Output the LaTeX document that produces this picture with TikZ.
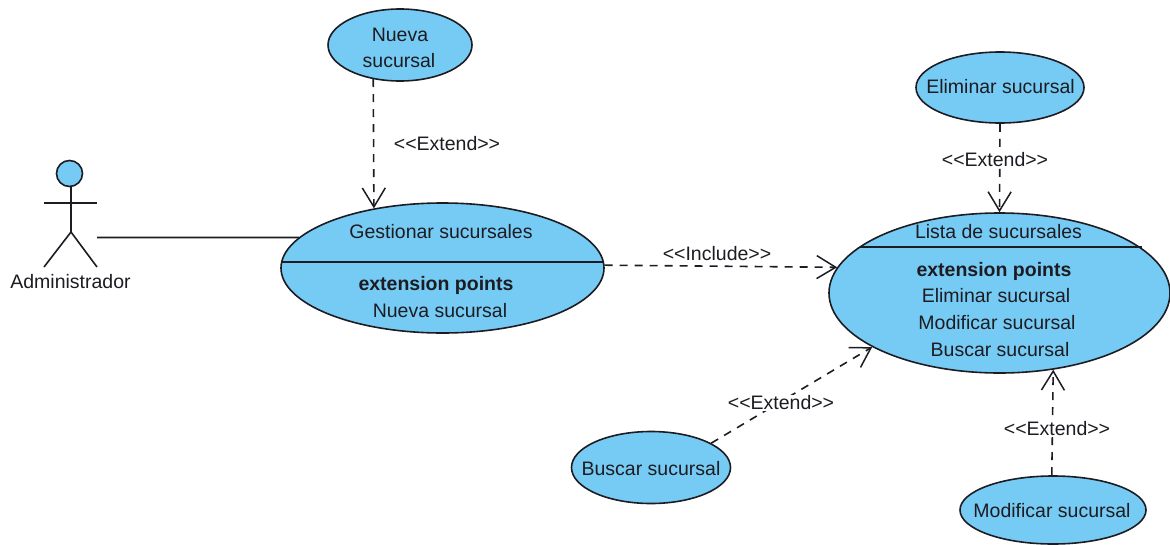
\documentclass[tikz,border=0pt]{standalone}
\usepackage{fontspec}
\setmainfont{Liberation Sans}
\usepackage{tikz}
\usetikzlibrary{shapes.geometric}
\usetikzlibrary{arrows.meta}

\definecolor{casefill}{HTML}{76CBF4}
\definecolor{inkline}{HTML}{1C1C22}

\tikzset{
    usecase/.style={ellipse, draw=inkline, fill=casefill, line width=1.6pt, inner sep=0pt},
    stereo/.style={font=\fontsize{19.5}{20}\selectfont, text=inkline, inner sep=1pt},
    caselabel/.style={font=\fontsize{19.5}{20}\selectfont, text=inkline, inner sep=0pt},
    extendline/.style={draw=inkline, line width=1.6pt, dash pattern=on 8pt off 7pt, -{Straight Barb[length=19pt,width=23pt,line width=1.5pt]}},
    plainline/.style={draw=inkline, line width=1.6pt}
}

\begin{document}
\begin{tikzpicture}[x=1pt,y=-1pt]
    \useasboundingbox (0,0) rectangle (1170,544);

    % use cases
    \node[usecase, minimum width=144pt, minimum height=72pt] (nueva) at (400,45) {};
    \node[usecase, minimum width=323pt, minimum height=130pt] (gestionar) at (442.5,268) {};
    \node[usecase, minimum width=341pt, minimum height=160pt] (lista) at (999.5,293) {};
    \node[usecase, minimum width=168pt, minimum height=71pt] (eliminar) at (1000,87.5) {};
    \node[usecase, minimum width=159pt, minimum height=72pt] (buscar) at (651,467.5) {};
    \node[usecase, minimum width=186pt, minimum height=68pt] (modificar) at (1053,510) {};

    % compartments
    \coordinate (gestionarL) at (282,262);
    \coordinate (gestionarR) at (603,262);
    \coordinate (listaL) at (860,247);
    \coordinate (listaR) at (1142,247);
    \draw[plainline] (gestionarL) -- (gestionarR);
    \draw[plainline] (listaL) -- (listaR);

    \node[caselabel] (nuevaA) at (400,35) {Nueva};
    \node[caselabel] (nuevaB) at (399,61) {sucursal};
    \node[caselabel] (eliminarT) at (1000.5,87) {Eliminar sucursal};
    \node[caselabel] (buscarT) at (651,469) {Buscar sucursal};
    \node[caselabel] (modificarT) at (1052,511) {Modificar sucursal};
    \node[caselabel] (gestionarT) at (441,232) {Gestionar sucursales};
    \node[caselabel] (gestionarE) at (436,285) {\bfseries extension points};
    \node[caselabel] (gestionarN) at (440,311) {Nueva sucursal};
    \node[caselabel] (listaT) at (998.5,232) {Lista de sucursales};
    \node[caselabel] (listaE) at (994,271) {\bfseries extension points};
    \node[caselabel] (listaA) at (996,296) {Eliminar sucursal};
    \node[caselabel] (listaB) at (997,323) {Modificar sucursal};
    \node[caselabel] (listaC) at (1000,350) {Buscar sucursal};

    % actor
    \node[circle, draw=inkline, fill=casefill, line width=1.6pt, minimum size=26pt, inner sep=0pt] (head) at (69.5,173.5) {};
    \coordinate (hip) at (71,232);
    \coordinate (armL) at (44,203);
    \coordinate (armR) at (97,203);
    \coordinate (footL) at (44,267);
    \coordinate (footR) at (97,267);
    \coordinate (actorEnd) at (97,237.5);
    \draw[plainline] (head.south -| hip) -- (hip);
    \draw[plainline] (armL) -- (armR);
    \draw[plainline] (footL) -- (hip) -- (footR);
    \node[caselabel] (admin) at (70.5,282) {Administrador};
    \draw[plainline] (actorEnd) -- (gestionar.168);

    % relations
    \draw[extendline] (nueva.232) -- (gestionar.139);
    \draw[extendline] (gestionar.1) -- (lista.171);
    \draw[extendline] (eliminar.south) -- (lista.north);
    \draw[extendline] (buscar.22) -- (lista.203);
    \draw[extendline] (modificar.92) -- (lista.-55);

    \node[stereo] (extA) at (447,144) {<{}<Extend>{}>};
    \node[stereo] (incl) at (717,254) {<{}<Include>{}>};
    \node[stereo, fill=white] (extB) at (995,160) {<{}<Extend>{}>};
    \node[stereo, fill=white] (extC) at (781,403) {<{}<Extend>{}>};
    \node[stereo, fill=white] (extD) at (1057,429) {<{}<Extend>{}>};
\end{tikzpicture}
\end{document}
